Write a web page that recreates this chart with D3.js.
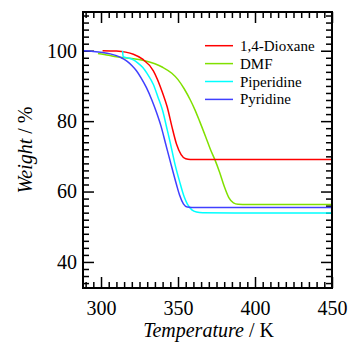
<!DOCTYPE html>
<html>
<head>
<meta charset="utf-8">
<title>TGA</title>
<script src="https://d3js.org/d3.v7.min.js"></script>
<style>
body { margin: 0; background: #fff; }
svg text { font-family: "Liberation Serif", serif; fill: #000; }
</style>
</head>
<body>
<script>
// data
var seriesNames = ["1,4-Dioxane", "DMF", "Piperidine", "Pyridine"];
var seriesColors = ["#ff0000", "#80e000", "#00ffff", "#4040ff"];

var dioxaneT = [301, 310, 316, 321, 327, 334, 340, 343, 346, 349, 352, 355, 358, 370, 400, 450];
var dioxaneW = [100, 99.9, 99.6, 99, 97.6, 94.3, 88, 84, 78.5, 73.5, 70.5, 69.3, 69.1, 69.1, 69.1, 69.1];

var dmfT = [298, 305, 310, 320, 327, 335, 340, 346, 350, 354, 358, 361, 364, 368, 371, 374, 377, 380, 383, 386, 389, 395, 420, 450];
var dmfW = [99.2, 98.7, 98.3, 97.8, 97.3, 96.3, 95.3, 93.6, 91.8, 89.2, 86, 83.2, 80, 75.5, 72, 69, 65.5, 61.5, 58.3, 56.8, 56.4, 56.3, 56.3, 56.3];

var piperidineT = [314, 314.4, 318, 321, 324, 327, 330, 334, 337, 340, 343, 345, 348, 351, 354, 356, 359, 362, 366, 400, 450];
var piperidineW = [100, 98.3, 97.9, 97.4, 96.5, 95.3, 93.5, 90.4, 86.8, 83, 77.5, 73.8, 67.8, 62.9, 58.5, 56.5, 54.8, 54.2, 54.0, 53.9, 53.9];

var pyridineT = [288.3, 295, 301, 306, 310, 314, 317, 320, 323, 326, 329.5, 333, 336, 339, 342, 345, 349, 351, 353.5, 356, 359, 400, 450];
var pyridineW = [100, 99.8, 99.5, 99.1, 98.6, 97.8, 97, 95.8, 94.3, 92.3, 89.5, 86, 82.5, 78.5, 73.5, 68.5, 62, 59, 56.5, 55.6, 55.5, 55.5, 55.5];

var xMajor = [300, 350, 400, 450];
var yMajor = [40, 60, 80, 100];

var W = 349, H = 343;
var pLeft = 83, pRight = 332, pTop = 12, pBottom = 288;
var serif = "Liberation Serif";

var svg = d3.select("body").append("svg").attr("width", W).attr("height", H);

var x = d3.scaleLinear().domain([288.3, 450]).range([pLeft, pRight]);
var y = d3.scaleLinear().domain([32.6, 111]).range([pBottom, pTop]);

var xMinor = d3.range(290, 451, 5).filter(function(v){ return xMajor.indexOf(v) < 0; });
var yMinor = d3.range(34, 111, 2).filter(function(v){ return yMajor.indexOf(v) < 0; });

function styleAxis(g) {
  g.attr("font-family", serif);
  g.select(".domain").remove();
  g.selectAll(".tick line").attr("stroke", "#000").attr("stroke-width", 1.5);
}
function styleLabels(g) {
  g.selectAll("text").attr("font-size", 20).attr("font-family", serif).attr("fill", "#000");
}

// bottom
svg.append("g").attr("transform", "translate(0," + pBottom + ")")
  .call(d3.axisBottom(x).tickValues(xMinor).tickSize(-6).tickFormat(""))
  .call(styleAxis);
svg.append("g").attr("transform", "translate(0," + pBottom + ")")
  .call(d3.axisBottom(x).tickValues(xMajor).tickSize(-11).tickPadding(13).tickFormat(d3.format("d")))
  .call(styleAxis).call(styleLabels);
// top
svg.append("g").attr("transform", "translate(0," + pTop + ")")
  .call(d3.axisTop(x).tickValues(xMinor).tickSize(-6).tickFormat(""))
  .call(styleAxis);
svg.append("g").attr("transform", "translate(0," + pTop + ")")
  .call(d3.axisTop(x).tickValues(xMajor).tickSize(-11).tickFormat(""))
  .call(styleAxis);
// left
svg.append("g").attr("transform", "translate(" + pLeft + ",0)")
  .call(d3.axisLeft(y).tickValues(yMinor).tickSize(-6).tickFormat(""))
  .call(styleAxis);
svg.append("g").attr("transform", "translate(" + pLeft + ",0)")
  .call(d3.axisLeft(y).tickValues(yMajor).tickSize(-11).tickPadding(6).tickFormat(d3.format("d")))
  .call(styleAxis).call(styleLabels);
// right
svg.append("g").attr("transform", "translate(" + pRight + ",0)")
  .call(d3.axisRight(y).tickValues(yMinor).tickSize(-6).tickFormat(""))
  .call(styleAxis);
svg.append("g").attr("transform", "translate(" + pRight + ",0)")
  .call(d3.axisRight(y).tickValues(yMajor).tickSize(-11).tickFormat(""))
  .call(styleAxis);

// curves
var allT = [dioxaneT, dmfT, piperidineT, pyridineT];
var allW = [dioxaneW, dmfW, piperidineW, pyridineW];
var line = d3.line().x(function(d){ return x(d[0]); }).y(function(d){ return y(d[1]); }).curve(d3.curveMonotoneX);

svg.append("clipPath").attr("id", "clip").append("rect")
  .attr("x", pLeft).attr("y", pTop).attr("width", pRight - pLeft).attr("height", pBottom - pTop);

// draw order: dmf, dioxane, piperidine, pyridine
[1, 0, 2, 3].forEach(function(i){
  var pts = allT[i].map(function(t, k){ return [t, allW[i][k]]; });
  svg.append("path").attr("d", line(pts)).attr("fill", "none")
    .attr("stroke", seriesColors[i]).attr("stroke-width", 1.5)
    .attr("clip-path", "url(#clip)");
});

// frame
svg.append("rect").attr("x", pLeft).attr("y", pTop).attr("width", pRight - pLeft).attr("height", pBottom - pTop)
  .attr("fill", "none").attr("stroke", "#000").attr("stroke-width", 2);

// legend
var legend = svg.append("g");
seriesNames.forEach(function(name, i){
  var ly = 45.7 + i * 17.9;
  legend.append("line").attr("x1", 205).attr("x2", 233).attr("y1", ly).attr("y2", ly)
    .attr("stroke", seriesColors[i]).attr("stroke-width", 1.5);
  legend.append("text").attr("x", 240).attr("y", ly + 5).attr("font-family", serif)
    .attr("font-size", 15).text(name);
});

// axis titles
var xt = svg.append("text").attr("x", (pLeft + pRight) / 2 + 1).attr("y", 337)
  .attr("text-anchor", "middle").attr("font-family", serif).attr("font-size", 20);
xt.append("tspan").attr("font-style", "italic").text("Temperature");
xt.append("tspan").text(" / K");

var yt = svg.append("text").attr("transform", "translate(32," + ((pTop + pBottom) / 2) + ") rotate(-90)")
  .attr("text-anchor", "middle").attr("font-family", serif).attr("font-size", 20);
yt.append("tspan").attr("font-style", "italic").text("Weight");
yt.append("tspan").text(" / %");
</script>
</body>
</html>
